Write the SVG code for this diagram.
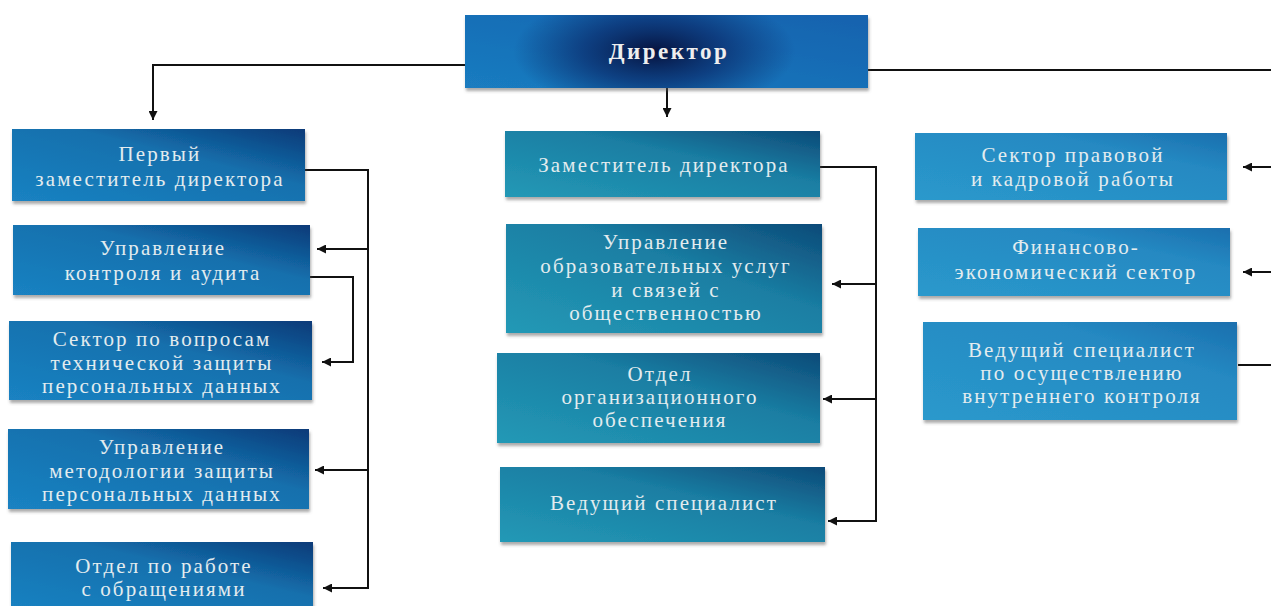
<svg xmlns="http://www.w3.org/2000/svg" width="1271" height="606" viewBox="0 0 1271 606">
<defs>
<style>
.t{font-family:"Liberation Serif","DejaVu Serif",serif;font-size:21px;fill:#e3ecef;text-anchor:middle;letter-spacing:2.1px}
.dt{font-family:"Liberation Serif","DejaVu Serif",serif;font-size:23px;fill:#eeeeee;text-anchor:middle;font-weight:bold;letter-spacing:2.5px}
.c{fill:none;stroke:#111;stroke-width:2}
.a{marker-end:url(#ah)}
.bl{fill:url(#gl);filter:url(#sh)}
.bm{fill:url(#gm);filter:url(#sh)}
.br{fill:url(#gr);filter:url(#sh)}
</style>
<marker id="ah" viewBox="0 0 10 10" refX="10" refY="5" markerWidth="11" markerHeight="9" markerUnits="userSpaceOnUse" orient="auto">
<path d="M0,0 L10,5 L0,10 z" fill="#111"/>
</marker>
<linearGradient id="gl" x1="0" y1="1" x2="1" y2="0">
<stop offset="0" stop-color="#1a82c2"/>
<stop offset="0.6" stop-color="#1470ad"/>
<stop offset="1" stop-color="#0b3a78"/>
</linearGradient>
<linearGradient id="gm" x1="0" y1="1" x2="1" y2="0">
<stop offset="0" stop-color="#2399b6"/>
<stop offset="0.6" stop-color="#1a7ea3"/>
<stop offset="1" stop-color="#0d4a78"/>
</linearGradient>
<linearGradient id="gr" x1="0" y1="1" x2="1" y2="0">
<stop offset="0" stop-color="#2a99cc"/>
<stop offset="0.7" stop-color="#2589c2"/>
<stop offset="1" stop-color="#1a6fae"/>
</linearGradient>
<linearGradient id="gd" x1="0" y1="1" x2="1" y2="0">
<stop offset="0" stop-color="#1a7cc0"/>
<stop offset="1" stop-color="#1262ae"/>
</linearGradient>
<radialGradient id="gdr" cx="0.47" cy="0.5" r="0.35" gradientTransform="translate(0.47 0.5) scale(1 2.4) translate(-0.47 -0.5)">
<stop offset="0" stop-color="#06123d" stop-opacity="1"/>
<stop offset="0.5" stop-color="#0a2a6a" stop-opacity="0.7"/>
<stop offset="1" stop-color="#0a2a6a" stop-opacity="0"/>
</radialGradient>
<filter id="sh" x="-5%" y="-10%" width="110%" height="130%">
<feDropShadow dx="1" dy="3" stdDeviation="1.5" flood-color="#555" flood-opacity="0.5"/>
</filter>
</defs>
<rect width="1271" height="606" fill="#ffffff"/>

<g id="connectors">
<path class="c a" d="M465,65 H153 V120"/>
<path class="c a" d="M667,88 V117"/>
<path class="c" d="M868,70 H1271"/>
<path class="c a" d="M1271,167 H1243"/>
<path class="c a" d="M1271,272 H1243"/>
<path class="c" d="M1271,365 H1238"/>
<path class="c a" d="M305,170 H368 V588 H323"/>
<path class="c a" d="M368,249 H317"/>
<path class="c a" d="M368,470 H315"/>
<path class="c a" d="M310,277 H353 V362 H322"/>
<path class="c a" d="M820,167 H876 V521 H828"/>
<path class="c a" d="M876,284 H832"/>
<path class="c a" d="M876,399 H823"/>
</g>

<g id="director">
<rect x="465" y="15" width="403" height="73" fill="url(#gd)" filter="url(#sh)"/>
<rect x="465" y="15" width="403" height="73" fill="url(#gdr)"/>
<text class="dt" x="669" y="59">Директор</text>
</g>

<g id="first-deputy">
<rect class="bl" x="12" y="129" width="293" height="72"/>
<text class="t" x="160" y="161">Первый</text>
<text class="t" x="160" y="186">заместитель директора</text>
</g>
<g id="control-audit">
<rect class="bl" x="13" y="225" width="297" height="70"/>
<text class="t" x="163" y="255">Управление</text>
<text class="t" x="163" y="280">контроля и аудита</text>
</g>
<g id="tech-protection">
<rect class="bl" x="9" y="321" width="303" height="79"/>
<text class="t" x="162" y="346">Сектор по вопросам</text>
<text class="t" x="162" y="370">технической защиты</text>
<text class="t" x="162" y="393">персональных данных</text>
</g>
<g id="methodology">
<rect class="bl" x="8" y="429" width="301" height="80"/>
<text class="t" x="162" y="454">Управление</text>
<text class="t" x="162" y="478">методологии защиты</text>
<text class="t" x="162" y="501">персональных данных</text>
</g>
<g id="appeals">
<rect class="bl" x="11" y="542" width="302" height="70"/>
<text class="t" x="164" y="573">Отдел по работе</text>
<text class="t" x="164" y="596">с обращениями</text>
</g>

<g id="deputy">
<rect class="bm" x="505" y="131" width="315" height="66"/>
<text class="t" x="664" y="172">Заместитель директора</text>
</g>
<g id="education">
<rect class="bm" x="506" y="224" width="316" height="109"/>
<text class="t" x="666" y="249">Управление</text>
<text class="t" x="666" y="273">образовательных услуг</text>
<text class="t" x="666" y="297">и связей с</text>
<text class="t" x="666" y="320">общественностью</text>
</g>
<g id="org-support">
<rect class="bm" x="497" y="353" width="323" height="90"/>
<text class="t" x="660" y="381">Отдел</text>
<text class="t" x="660" y="404">организационного</text>
<text class="t" x="660" y="427">обеспечения</text>
</g>
<g id="lead-specialist">
<rect class="bm" x="500" y="467" width="325" height="75"/>
<text class="t" x="664" y="510">Ведущий специалист</text>
</g>

<g id="legal-hr">
<rect class="br" x="915" y="133" width="312" height="67"/>
<text class="t" x="1073" y="162">Сектор правовой</text>
<text class="t" x="1073" y="186">и кадровой работы</text>
</g>
<g id="finance">
<rect class="br" x="918" y="228" width="312" height="68"/>
<text class="t" x="1076" y="254">Финансово-</text>
<text class="t" x="1076" y="279">экономический сектор</text>
</g>
<g id="internal-control">
<rect class="br" x="923" y="322" width="314" height="98"/>
<text class="t" x="1082" y="357">Ведущий специалист</text>
<text class="t" x="1082" y="380">по осуществлению</text>
<text class="t" x="1082" y="403">внутреннего контроля</text>
</g>
</svg>
